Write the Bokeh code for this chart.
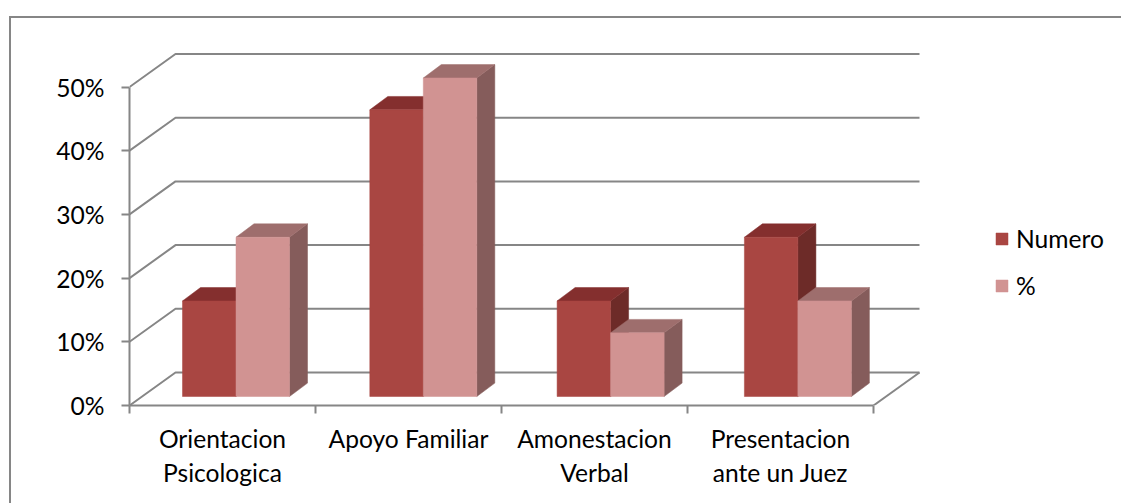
from bokeh.plotting import figure
from bokeh.models import (Range1d, FixedTicker, Legend, LegendItem)
from bokeh.embed import file_html
from bokeh.resources import INLINE

categories = ["Orientacion\nPsicologica", "Apoyo Familiar", "Amonestacion\nVerbal", "Presentacion\nante un Juez"]
numero = [15, 45, 15, 25]
porcentaje = [25, 50, 10, 15]
y_ticks = [0, 10, 20, 30, 40, 50]
series_names = ["Numero", "%"]

FONT = "Lato"
FONT_SIZE = "24.6px"
GREY = "#868686"

# Pixel layout of the chart
CAT_PX = 186.0
PCT_PX = 6.37
W, H = 1121, 503
F_LEFT, F_RIGHT, F_TOP, F_BOTTOM = 129, W, 49, 405

# Oblique projection of the depth axis, in data units
WALL_DX = 46.0 / CAT_PX
WALL_DY = 33.0 / PCT_PX
BAR_GAP_DX = 13.5 / CAT_PX      # depth of the front of the bars
BAR_GAP_DY = 9.0 / PCT_PX
BAR_DX = 18.0 / CAT_PX          # depth of the bars
BAR_DY = 13.4 / PCT_PX
BAR_W = 53.5 / CAT_PX
BAR_STEP = 187.3 / CAT_PX       # spacing of the bar groups

p = figure(width=W, height=H, output_backend="svg", toolbar_location=None,
           x_range=Range1d(0, (F_RIGHT - F_LEFT) / CAT_PX),
           y_range=Range1d(0, (F_BOTTOM - F_TOP) / PCT_PX),
           min_border_left=F_LEFT, min_border_right=0,
           min_border_top=F_TOP, min_border_bottom=H - F_BOTTOM)
p.outline_line_color = None
p.grid.visible = False
p.border_fill_color = None
p.background_fill_color = None
# Outer frame of the chart: only its left and top edges fall inside the picture
p.styles = {
    "background-color": "#ffffff",
    "background-image": f"linear-gradient({GREY},{GREY}),linear-gradient({GREY},{GREY})",
    "background-size": "2px 100%,100% 2px",
    "background-position": "9px 16px,9px 16px",
    "background-repeat": "no-repeat",
}

# Walls and floor
wall_xs, wall_ys = [], []
n = len(categories)
for v in y_ticks:
    wall_xs.append([0, WALL_DX, n + WALL_DX])
    wall_ys.append([v, v + WALL_DY, v + WALL_DY])
wall_xs.append([n, n + WALL_DX])
wall_ys.append([0, WALL_DY])
p.multi_line(wall_xs, wall_ys, line_color=GREY, line_width=2)

# Bars
styles = [("#A94642", "#6D2B28", "#842F2E"), ("#D19392", "#855C5B", "#9E6E6D")]
fronts = []
for s, vals in enumerate([numero, porcentaje]):
    front, side, top = styles[s]
    lefts = [i * BAR_STEP + 0.5 + BAR_GAP_DX - BAR_W + s * BAR_W for i in range(n)]
    rights = [l + BAR_W for l in lefts]
    p.patches([[r, r + BAR_DX, r + BAR_DX, r] for r in rights],
              [[BAR_GAP_DY, BAR_GAP_DY + BAR_DY, BAR_GAP_DY + v + BAR_DY, BAR_GAP_DY + v] for v in vals],
              fill_color=side, line_color=side, line_width=0.5)
    p.patches([[l, l + BAR_DX, r + BAR_DX, r] for l, r in zip(lefts, rights)],
              [[BAR_GAP_DY + v, BAR_GAP_DY + v + BAR_DY, BAR_GAP_DY + v + BAR_DY, BAR_GAP_DY + v] for v in vals],
              fill_color=top, line_color=top, line_width=0.5)
    fronts.append(p.quad(left=lefts, right=rights,
                         bottom=[BAR_GAP_DY] * n, top=[BAR_GAP_DY + v for v in vals],
                         fill_color=front, line_color=front, line_width=0.5))

# Axes
ax = p.yaxis[0]
ax.ticker = FixedTicker(ticks=y_ticks)
ax.bounds = (0, 50)
ax.major_label_overrides = {v: f"{v}%" for v in y_ticks}
ax.minor_tick_line_color = None
ax.major_tick_in = 0
ax.major_tick_out = 8
ax.major_tick_line_color = GREY
ax.major_tick_line_width = 2
ax.axis_line_color = GREY
ax.axis_line_width = 2
ax.major_label_text_font = FONT
ax.major_label_text_font_size = FONT_SIZE
ax.major_label_text_color = "#000000"
ax.major_label_standoff = 17

bx = p.xaxis[0]
centers = [i + 0.5 for i in range(n)]
bx.ticker = FixedTicker(ticks=centers, minor_ticks=list(range(n + 1)))
bx.bounds = (0, n)
bx.major_label_overrides = dict(zip(centers, categories))
bx.major_tick_line_color = None
bx.major_tick_in = 0
bx.major_tick_out = 0
bx.minor_tick_in = 0
bx.minor_tick_out = 8
bx.minor_tick_line_color = GREY
bx.minor_tick_line_width = 2
bx.axis_line_color = GREY
bx.axis_line_width = 2
bx.major_label_text_font = FONT
bx.major_label_text_font_size = FONT_SIZE
bx.major_label_text_color = "#000000"
bx.major_label_standoff = 10

# Legend
legend = Legend(items=[LegendItem(label=name, renderers=[r]) for name, r in zip(series_names, fronts)],
                location=(865, 105), orientation="vertical", background_fill_alpha=0,
                border_line_color=None, glyph_width=15, glyph_height=15,
                label_standoff=7, spacing=18, margin=0, padding=0,
                label_text_font=FONT, label_text_font_size=FONT_SIZE, label_text_color="#000000")
p.add_layout(legend, "center")

open("out.html", "w").write(file_html(p, INLINE))
